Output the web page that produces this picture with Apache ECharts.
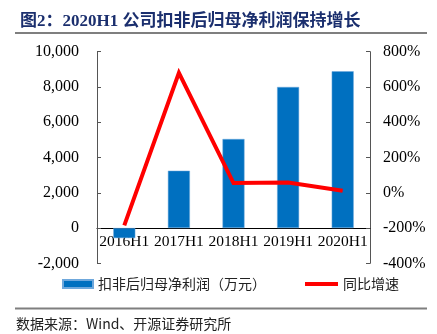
<!DOCTYPE html>
<html>
<head>
<meta charset="utf-8">
<script src="https://cdn.jsdelivr.net/npm/echarts@6/dist/echarts.min.js"></script>
<style>
  html, body { margin: 0; padding: 0; background: #fff; }
  #chart { width: 437px; height: 334px; }
</style>
</head>
<body>
<div id="chart"></div>
<script>
// Half-year periods
const periods = ['2016H1', '2017H1', '2018H1', '2019H1', '2020H1'];
// Non-recurring-adjusted net profit attributable to parent (10k CNY)
const netProfit = [-570, 3250, 5050, 8000, 8890];
// Year-over-year growth (%)
const yoyGrowth = [-185, 680, 55, 58, 11];

const barName = '扣非后归母净利润（万元）';
const lineName = '同比增速';

const serif = 'Liberation Serif, "Noto Sans CJK SC", serif';
const cjk = '"Noto Sans CJK SC", sans-serif';

const chart = echarts.init(document.getElementById('chart'), null, { renderer: 'canvas' });

chart.setOption({
  backgroundColor: '#fff',
  animation: false,
  title: {
    text: '图2：2020H1 公司扣非后归母净利润保持增长',
    left: 15,
    top: 8,
    textStyle: { fontFamily: serif, fontSize: 17, fontWeight: 'bold', color: '#1B2F6E' }
  },
  graphic: [
    { type: 'line', shape: { x1: 15, y1: 33, x2: 427, y2: 33 }, style: { stroke: '#7f7f7f', lineWidth: 2 } },
    { type: 'line', shape: { x1: 15, y1: 308.5, x2: 427, y2: 308.5 }, style: { stroke: '#7f7f7f', lineWidth: 2 } },
    {
      type: 'text', left: 16, top: 317,
      style: { text: '数据来源：Wind、开源证券研究所', fontFamily: cjk, fontSize: 14, fill: '#222' }
    }
  ],
  legend: [
    {
      data: [{ name: barName, icon: 'rect' }],
      left: 57, top: 272,
      itemWidth: 30, itemHeight: 8,
      textStyle: { fontFamily: cjk, fontSize: 14, color: '#222' }
    },
    {
      data: [{ name: lineName, icon: 'rect' }],
      left: 300, top: 272,
      itemWidth: 33, itemHeight: 4,
      textStyle: { fontFamily: cjk, fontSize: 14, color: '#222' }
    }
  ],
  grid: { left: 97, right: 67, top: 51.7, bottom: 70.7, containLabel: false },
  xAxis: {
    type: 'category',
    data: periods,
    axisLine: { onZero: true, lineStyle: { color: '#000', width: 1 } },
    axisTick: { inside: true, length: 4, lineStyle: { color: '#000' } },
    // category names sit just under the zero line
    axisLabel: { fontFamily: serif, fontSize: 15.5, color: '#000', margin: -29, interval: 0 },
    splitLine: { show: false }
  },
  yAxis: [
    {
      type: 'value',
      min: -2000, max: 10000, interval: 2000,
      axisLine: { show: true, onZero: false, lineStyle: { color: '#555' } },
      axisTick: { show: true, inside: true, length: 4, lineStyle: { color: '#555' } },
      axisLabel: {
        fontFamily: serif, fontSize: 16, color: '#000', margin: 18,
        formatter: v => v.toLocaleString('en-US')
      },
      splitLine: { show: false }
    },
    {
      type: 'value',
      min: -400, max: 800, interval: 200,
      axisLine: { show: true, onZero: false, lineStyle: { color: '#555' } },
      axisTick: { show: true, inside: true, length: 4, lineStyle: { color: '#555' } },
      axisLabel: { fontFamily: serif, fontSize: 16, color: '#000', margin: 13, formatter: '{value}%' },
      splitLine: { show: false }
    }
  ],
  series: [
    {
      name: barName,
      type: 'bar',
      data: netProfit,
      barWidth: 22,
      itemStyle: { color: '#0070C0', borderColor: '#6FA8DC', borderWidth: 0.5 }
    },
    {
      name: lineName,
      type: 'line',
      yAxisIndex: 1,
      data: yoyGrowth,
      symbol: 'none',
      itemStyle: { color: '#FF0000' },
      lineStyle: { color: '#FF0000', width: 4, join: 'miter' },
      z: 5
    }
  ]
});
</script>
</body>
</html>
